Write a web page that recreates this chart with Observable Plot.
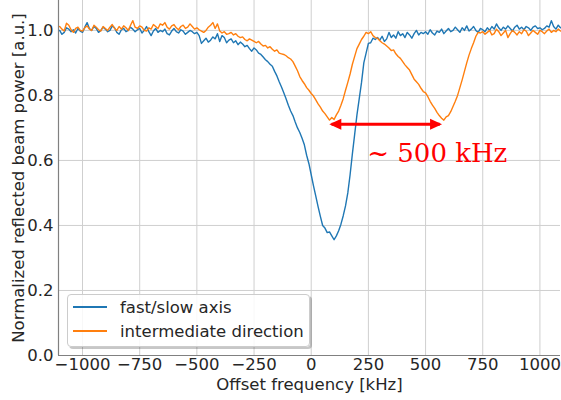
<!DOCTYPE html>
<html>
<head>
<meta charset="utf-8">
<script src="https://cdn.jsdelivr.net/npm/d3@7"></script>
<script src="https://cdn.jsdelivr.net/npm/@observablehq/plot@0.6"></script>
<style>
  html, body { margin: 0; padding: 0; background: white; }
  #wrap { position: relative; width: 561px; height: 400px; }
  #legend {
    position: absolute; left: 67px; top: 294px; width: 243px; height: 53px;
    box-sizing: border-box; border: 1px solid #cccccc; border-radius: 4px;
    background: rgba(255,255,255,0.85); box-shadow: 2px 2px 0 rgba(0,0,0,0.22);
    font-family: "DejaVu Sans", sans-serif; font-size: 16.5px; color: #262626;
  }
  .row { position: absolute; left: 0; height: 20px; display: flex; align-items: center; white-space: nowrap; }
  .sw { display: inline-block; width: 34px; height: 0; border-top: 2px solid; margin-left: 5px; margin-right: 13px; }
</style>
</head>
<body>
<div id="wrap"></div>
<script>
const freq = [
-1100,-1090,-1080,-1070,-1060,-1050,-1040,-1030,-1020,-1010,
-1000,-990,-980,-970,-960,-950,-940,-930,-920,-910,
-900,-890,-880,-870,-860,-850,-840,-830,-820,-810,
-800,-790,-780,-770,-760,-750,-740,-730,-720,-710,
-700,-690,-680,-670,-660,-650,-640,-630,-620,-610,
-600,-590,-580,-570,-560,-550,-540,-530,-520,-510,
-500,-490,-480,-470,-460,-450,-440,-430,-420,-410,
-400,-390,-380,-370,-360,-350,-340,-330,-320,-310,
-300,-290,-280,-270,-260,-250,-240,-230,-220,-210,
-200,-190,-180,-170,-160,-150,-140,-130,-120,-110,
-100,-90,-80,-70,-60,-50,-40,-30,-20,-10,
0,10,20,30,40,50,60,70,80,90,
100,110,120,130,140,150,160,170,180,190,
200,210,220,230,240,250,260,270,280,290,
300,310,320,330,340,350,360,370,380,390,
400,410,420,430,440,450,460,470,480,490,
500,510,520,530,540,550,560,570,580,590,
600,610,620,630,640,650,660,670,680,690,
700,710,720,730,740,750,760,770,780,790,
800,810,820,830,840,850,860,870,880,890,
900,910,920,930,940,950,960,970,980,990,
1000,1010,1020,1030,1040,1050,1060,1070,1080,1090];

const fastSlow = [
1.000,0.988,0.994,1.008,1.004,0.996,1.002,0.992,1.006,0.998,
0.994,1.010,1.024,1.006,1.000,1.012,1.006,0.994,1.000,1.010,
1.004,0.996,1.000,1.014,1.008,0.994,0.988,1.002,1.006,0.996,
1.000,1.010,1.004,0.996,1.002,1.006,0.992,1.000,1.012,0.996,
0.984,0.998,1.006,0.994,1.000,0.996,1.004,0.990,0.986,0.998,
1.006,0.996,0.992,1.002,0.998,0.988,0.994,1.000,0.996,0.990,
0.994,0.984,0.960,0.968,0.976,0.964,0.970,0.980,0.974,0.990,
0.966,0.984,0.978,0.962,0.970,0.974,0.962,0.968,0.956,0.964,
0.958,0.950,0.954,0.944,0.936,0.946,0.940,0.930,0.926,0.918,
0.910,0.904,0.896,0.890,0.874,0.860,0.842,0.826,0.808,0.790,
0.770,0.752,0.738,0.718,0.700,0.686,0.668,0.648,0.616,0.590,
0.556,0.522,0.490,0.458,0.428,0.400,0.392,0.378,0.380,0.368,
0.356,0.368,0.384,0.404,0.430,0.460,0.500,0.556,0.620,0.680,
0.740,0.790,0.840,0.900,0.930,0.960,0.962,0.976,0.972,0.978,
0.970,0.982,0.966,0.974,0.994,0.978,0.986,0.976,0.996,0.984,
0.990,0.978,0.994,0.986,0.976,0.990,1.000,0.986,0.994,0.990,
0.996,0.988,1.002,0.992,0.986,0.998,0.994,1.004,0.990,0.998,
1.006,0.996,1.000,1.010,1.002,0.994,1.008,1.000,1.014,0.998,
1.004,1.012,1.000,0.994,1.006,1.002,0.996,1.008,1.000,1.012,
1.004,1.020,1.008,1.000,1.010,1.004,1.014,1.006,0.998,1.010,
1.016,1.004,1.010,1.002,1.012,1.008,1.000,1.010,1.014,1.006,
1.008,1.002,1.006,1.014,1.010,1.030,1.012,1.004,1.016,1.008];

const intermediate = [
1.012,1.004,0.998,1.022,1.016,1.002,0.994,1.006,1.010,1.000,
0.998,1.008,1.014,1.004,1.000,1.016,1.010,1.002,0.998,1.012,
1.006,1.000,1.010,1.018,1.006,1.000,1.012,1.004,1.014,1.008,
1.000,1.016,1.030,1.010,1.006,1.014,1.010,1.000,0.998,1.008,
1.004,1.018,1.012,1.006,1.020,1.016,1.024,1.010,1.004,1.014,
1.018,1.008,1.002,1.012,1.016,1.006,1.010,1.020,1.012,1.004,
1.008,1.002,0.998,0.994,1.000,1.010,1.016,1.024,1.006,1.020,
0.998,0.992,0.996,0.988,0.990,0.994,0.986,0.990,0.982,0.978,
0.980,0.972,0.968,0.974,0.970,0.966,0.962,0.966,0.958,0.952,
0.954,0.946,0.950,0.942,0.936,0.940,0.930,0.928,0.926,0.922,
0.916,0.912,0.904,0.890,0.876,0.858,0.846,0.836,0.824,0.816,
0.806,0.798,0.786,0.774,0.764,0.752,0.744,0.734,0.724,0.732,
0.726,0.740,0.752,0.770,0.790,0.816,0.840,0.866,0.896,0.920,
0.944,0.958,0.972,0.982,0.994,0.990,0.996,0.984,0.978,0.976,
0.968,0.962,0.958,0.952,0.946,0.938,0.940,0.928,0.920,0.914,
0.904,0.894,0.886,0.878,0.864,0.850,0.842,0.834,0.822,0.812,
0.808,0.796,0.782,0.770,0.760,0.748,0.738,0.730,0.724,0.734,
0.738,0.750,0.766,0.782,0.800,0.824,0.848,0.874,0.900,0.924,
0.944,0.962,0.982,0.994,0.992,0.996,0.988,0.994,1.000,0.986,
0.990,1.004,0.996,0.984,0.992,1.000,0.978,0.990,1.000,0.994,
0.986,0.996,0.990,1.002,0.998,0.984,0.992,1.000,0.994,0.988,
1.000,0.996,0.990,0.998,1.004,0.994,1.000,0.996,1.004,0.998];

const seriesNames = ["fast/slow axis", "intermediate direction"];
const seriesColors = ["#1f77b4", "#ff7f0e"];
const xTicks = [-1000, -750, -500, -250, 0, 250, 500, 750, 1000];
const yTicks = [0.0, 0.2, 0.4, 0.6, 0.8, 1.0];
const xLabel = "Offset frequency [kHz]";
const yLabel = "Normalized reflected beam power [a.u.]";
const arrowStart = 79, arrowEnd = 572, arrowLevel = 0.711;
const annotation = "~ 500 kHz";
const annotationX = 245, annotationY = 0.595;

const data = [];
freq.forEach((f, i) => {
  data.push({f, v: fastSlow[i], s: seriesNames[0]});
  data.push({f, v: intermediate[i], s: seriesNames[1]});
});

const headRight = { draw(ctx) { ctx.moveTo(0, 0); ctx.lineTo(-12, -5.5); ctx.lineTo(-12, 5.5); ctx.closePath(); } };
const headLeft = { draw(ctx) { ctx.moveTo(0, 0); ctx.lineTo(12, -5.5); ctx.lineTo(12, 5.5); ctx.closePath(); } };
const fmtX = d => d < 0 ? "\u2212" + (-d) : String(d);

const chart = Plot.plot({
  width: 561, height: 400,
  marginLeft: 58, marginRight: 1, marginTop: 0, marginBottom: 45,
  style: { fontFamily: "DejaVu Sans", fontSize: "16.5px", background: "white", color: "#262626" },
  x: { type: "linear", domain: [-1105, 1090] },
  y: { type: "linear", domain: [0, 1.092] },
  color: { domain: seriesNames, range: seriesColors },
  marks: [
    Plot.gridX(xTicks, { stroke: "#cfcfcf", strokeOpacity: 1, strokeWidth: 1 }),
    Plot.gridY(yTicks, { stroke: "#cfcfcf", strokeOpacity: 1, strokeWidth: 1 }),
    Plot.line(data, { x: "f", y: "v", z: "s", stroke: "s", strokeWidth: 1.4 }),
    Plot.link([0], { x1: arrowStart + 10, x2: arrowEnd - 10, y1: arrowLevel, y2: arrowLevel, stroke: "#ff0000", strokeWidth: 3 }),
    Plot.dot([0], { x: arrowEnd, y: arrowLevel, symbol: headRight, fill: "#ff0000", stroke: "none" }),
    Plot.dot([0], { x: arrowStart, y: arrowLevel, symbol: headLeft, fill: "#ff0000", stroke: "none" }),
    Plot.text([annotation], { x: annotationX, y: annotationY, text: d => d, textAnchor: "start", lineAnchor: "bottom", fill: "#ff0000", fontFamily: "DejaVu Serif", fontSize: 26 }),
    Plot.axisX(xTicks, { anchor: "bottom", tickSize: 0, tickPadding: 3, tickFormat: fmtX, label: null, fill: "#262626", fontSize: 16.5 }),
    Plot.axisY(yTicks, { anchor: "left", tickSize: 0, tickPadding: 5, tickFormat: d => d.toFixed(1), label: null, fill: "#262626", fontSize: 16.5 }),
    Plot.ruleX([-1105], { stroke: "#808080", strokeWidth: 1.2 }),
    Plot.ruleY([0], { stroke: "#808080", strokeWidth: 1.2 }),
    Plot.text([xLabel], { frameAnchor: "bottom", dy: 34, lineAnchor: "bottom", text: d => d, fill: "#262626", fontSize: 16.5 }),
    Plot.text([yLabel], { frameAnchor: "left", textAnchor: "middle", dx: -35, rotate: -90, lineAnchor: "bottom", text: d => d, fill: "#262626", fontSize: 16.5 })
  ]
});

const wrap = document.getElementById("wrap");
wrap.appendChild(chart);

const legend = document.createElement("div");
legend.id = "legend";
seriesNames.forEach((name, i) => {
  const row = document.createElement("div");
  row.className = "row";
  row.style.top = (i === 0 ? 2 : 26) + "px";
  const sw = document.createElement("span");
  sw.className = "sw";
  sw.style.borderTopColor = seriesColors[i];
  const t = document.createElement("span");
  t.textContent = name;
  row.appendChild(sw);
  row.appendChild(t);
  legend.appendChild(row);
});
wrap.appendChild(legend);
</script>
</body>
</html>
